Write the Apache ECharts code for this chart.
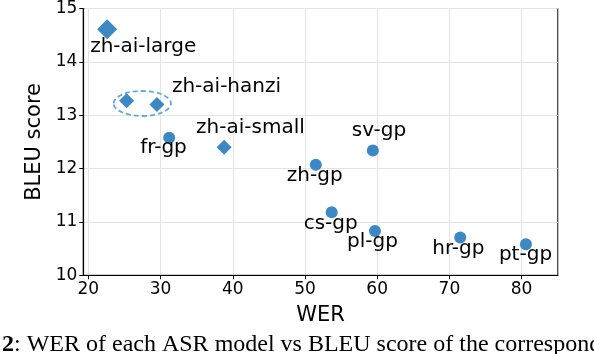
<!DOCTYPE html>
<html>
<head>
<meta charset="utf-8">
<script src="https://cdn.jsdelivr.net/npm/echarts@6/dist/echarts.min.js"></script>
<style>html,body{margin:0;padding:0;background:#fff;overflow:hidden}#c{width:594px;height:354px}</style>
</head>
<body>
<div id="c"></div>
<script>
// ---- data ----
const diamondNames = ['zh-ai-large', 'zh-ai-hanzi-a', 'zh-ai-hanzi', 'zh-ai-small'];
const diamondWER   = [22.6, 25.3, 29.5, 38.8];
const diamondBLEU  = [14.61, 13.27, 13.20, 12.40];
const diamondLabel = ['zh-ai-large', '', 'zh-ai-hanzi', 'zh-ai-small'];

const circleNames = ['fr-gp', 'zh-gp', 'sv-gp', 'cs-gp', 'pl-gp', 'hr-gp', 'pt-gp'];
const circleWER   = [31.2, 51.5, 59.4, 53.7, 59.7, 71.5, 80.6];
const circleBLEU  = [12.58, 12.07, 12.34, 11.18, 10.83, 10.71, 10.58];

const xTicks = [20, 30, 40, 50, 60, 70, 80];
const yTicks = [10, 11, 12, 13, 14, 15];
const groupedNames = ['zh-ai-hanzi-a', 'zh-ai-hanzi']; // circled by dashed ellipse

// ---- styles (label offsets in px, relative to marker centre) ----
const labelOffsets = {
  'zh-ai-large': [-17, 17], 'zh-ai-hanzi': [15, -18], 'zh-ai-small': [-28, -19],
  'fr-gp': [-29, 10], 'zh-gp': [-29, 11], 'sv-gp': [-21, -20], 'cs-gp': [-28, 11],
  'pl-gp': [-28, 11], 'hr-gp': [-28, 11], 'pt-gp': [-27, 10]
};
const diamondSizes = {'zh-ai-large': 20};
const COLOR = '#3d88c3';
const FONT = 'DejaVu Sans';

function buildData(names, xs, ys, labels) {
  return names.map((n, i) => {
    const lab = labels ? labels[i] : n;
    const off = labelOffsets[lab] || [0, 0];
    const d = {
      name: n,
      value: [xs[i], ys[i]],
      label: { show: !!lab, formatter: lab, offset: off }
    };
    if (diamondSizes[n]) d.symbolSize = diamondSizes[n];
    return d;
  });
}

const chart = echarts.init(document.getElementById('c'), null, {renderer: 'canvas'});
const labelStyle = {
  position: 'inside', align: 'left', verticalAlign: 'middle',
  color: '#000', fontSize: 20, fontFamily: FONT
};
const captionGraphic = {
  type: 'text', left: 2, top: 333,
  style: {
    text: '{b|2}: WER of each ASR model vs BLEU score of the corresponding',
    rich: { b: { fontWeight: 'bold', fontSize: 24, fontFamily: 'Liberation Serif', fill: '#000' } },
    fontSize: 24, fontFamily: 'Liberation Serif', fill: '#000'
  }
};
const option = {
  animation: false,
  grid: { left: 83.3, right: 36.3, top: 7.3, bottom: 78.7, show: true, borderColor: '#3a3a3a', borderWidth: 1.2, backgroundColor: 'transparent' },
  xAxis: {
    type: 'value', min: 19.3, max: 85,
    name: 'WER', nameLocation: 'middle', nameGap: 30,
    nameTextStyle: { fontSize: 21, fontFamily: FONT, color: '#000' },
    axisLine: { show: true, onZero: false, lineStyle: { color: '#000', width: 1.2 } },
    axisTick: { show: true, length: 4, customValues: xTicks, lineStyle: { color: '#000' } },
    axisLabel: { customValues: xTicks, fontSize: 17, fontFamily: FONT, color: '#000', margin: 6 },
    splitLine: { show: true, lineStyle: { color: '#e3e3e3', width: 1 } }
  },
  yAxis: {
    type: 'value', min: 10, max: 15,
    name: 'BLEU score', nameLocation: 'middle', nameGap: 36, nameRotate: 90,
    nameTextStyle: { fontSize: 21, fontFamily: FONT, color: '#000' },
    axisLine: { show: true, onZero: false, lineStyle: { color: '#000', width: 1.2 } },
    axisTick: { show: true, length: 4, customValues: yTicks, lineStyle: { color: '#000' } },
    axisLabel: { customValues: yTicks, fontSize: 17, fontFamily: FONT, color: '#000', margin: 6 },
    splitLine: { show: true, lineStyle: { color: '#e3e3e3', width: 1 } }
  },
  series: [
    {
      type: 'scatter', symbol: 'diamond', symbolSize: 15,
      itemStyle: { color: COLOR, opacity: 1 },
      label: labelStyle,
      data: buildData(diamondNames, diamondWER, diamondBLEU, diamondLabel)
    },
    {
      type: 'scatter', symbol: 'circle', symbolSize: 12,
      itemStyle: { color: COLOR, opacity: 1 },
      label: labelStyle,
      data: buildData(circleNames, circleWER, circleBLEU, null)
    }
  ],
  graphic: [captionGraphic]
};
chart.setOption(option);

// dashed ellipse around the grouped points, positioned via the axes
const pts = groupedNames.map(n => {
  const i = diamondNames.indexOf(n);
  return chart.convertToPixel({gridIndex: 0}, [diamondWER[i], diamondBLEU[i]]);
});
const cx = (pts[0][0] + pts[1][0]) / 2 + 0.5;
const cy = (pts[0][1] + pts[1][1]) / 2 + 0.8;
const rx = Math.abs(pts[1][0] - pts[0][0]) / 2 + 13.5;
chart.setOption({
  graphic: [
    captionGraphic,
    {
      type: 'ellipse', z: 10,
      shape: { cx: cx, cy: cy, rx: rx, ry: 12.5 },
      style: { fill: 'none', stroke: '#6aa6d8', lineWidth: 1.8, lineDash: [5, 3] }
    }
  ]
});
</script>
</body>
</html>
